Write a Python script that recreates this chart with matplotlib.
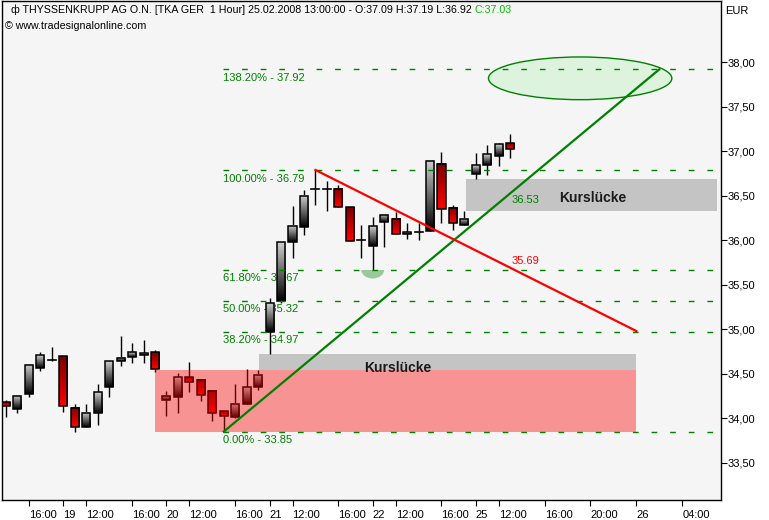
import numpy as np
import matplotlib
matplotlib.use("Agg")
import matplotlib.pyplot as plt
from matplotlib.patches import Rectangle, Ellipse
from matplotlib.colors import LinearSegmentedColormap
from matplotlib.ticker import FuncFormatter

plt.rcParams['font.family'] = ['Liberation Sans', 'DejaVu Sans']

# hourly bars, index 0 = 19.02. 10:00
bar_idx = list(range(-5, 40))
opens = [34.18, 34.10, 34.27, 34.57, 34.66, 34.70, 34.12, 33.90, 34.06, 34.35,
         34.64, 34.69, 34.71, 34.74, 34.20, 34.24, 34.46, 34.43, 34.31, 34.08,
         34.01, 34.16, 34.35, 34.97, 35.32, 35.98, 36.15, 36.58, 36.58, 36.58,
         36.37, 36.00, 35.94, 36.20, 36.24, 36.07, 36.09, 36.10, 36.86, 36.36,
         36.17, 36.75, 36.85, 36.95, 37.09]
highs = [34.20, 34.26, 34.60, 34.74, 34.80, 34.70, 34.16, 34.16, 34.39, 34.64,
         34.92, 34.85, 34.88, 34.77, 34.31, 34.51, 34.63, 34.43, 34.31, 34.08,
         34.38, 34.55, 34.54, 35.35, 35.98, 36.38, 36.57, 36.79, 36.67, 36.62,
         36.37, 36.17, 36.26, 36.28, 36.32, 36.19, 36.19, 36.90, 36.99, 36.40,
         36.33, 36.98, 37.07, 37.09, 37.19]
lows = [34.01, 34.06, 34.24, 34.53, 34.64, 34.07, 33.85, 33.90, 33.92, 34.24,
        34.59, 34.62, 34.62, 34.52, 34.02, 34.06, 34.30, 34.19, 33.97, 33.85,
        34.00, 34.16, 34.32, 34.72, 35.30, 35.80, 36.06, 36.40, 36.33, 36.37,
        35.99, 35.80, 35.67, 35.92, 36.07, 36.01, 36.00, 36.10, 36.19, 36.11,
        36.17, 36.69, 36.73, 36.83, 36.92]
closes = [34.14, 34.25, 34.60, 34.71, 34.67, 34.14, 33.90, 34.06, 34.29, 34.64,
          34.68, 34.74, 34.73, 34.55, 34.25, 34.46, 34.41, 34.26, 34.06, 34.03,
          34.16, 34.35, 34.49, 35.29, 35.98, 36.16, 36.50, 36.58, 36.58, 36.37,
          35.99, 36.00, 36.16, 36.28, 36.07, 36.09, 36.09, 36.89, 36.35, 36.19,
          36.24, 36.85, 36.97, 37.08, 37.03]

tick_pos = [-3, 0, 2, 6, 9, 11, 15, 18, 20, 24, 27, 29, 33, 36, 38, 42, 46, 50, 54]
tick_lab = ['16:00', '19', '12:00', '16:00', '20', '12:00', '16:00', '21', '12:00',
            '16:00', '22', '12:00', '16:00', '25', '12:00', '16:00', '20:00', '26', '04:00']

fib_pct = ['0.00%', '38.20%', '50.00%', '61.80%', '100.00%', '138.20%']
fib_val = [33.85, 34.97, 35.32, 35.67, 36.79, 37.92]

up_cmap = LinearSegmentedColormap.from_list('up', ['#cfcfcf', '#000000'])
dn_cmap = LinearSegmentedColormap.from_list('dn', ['#7a0000', '#ff0000'])
grad = np.linspace(0, 1, 64).reshape(-1, 1)

fig = plt.figure(figsize=(7.69, 5.2), dpi=100)
ax = fig.add_axes([2 / 769, 20 / 520, 719 / 769, 499 / 520])
ax.set_facecolor('#f5f5f5')

bw = 0.7
for i, o, h, l, c in zip(bar_idx, opens, highs, lows, closes):
    ax.plot([i, i], [l, h], color='black', lw=1.0, zorder=2, solid_capstyle='butt')
    top, bot = max(o, c), min(o, c)
    if top - bot < 0.015:
        ax.plot([i - bw / 2, i + bw / 2], [o, o], color='black', lw=1.2, zorder=4)
        continue
    cmap = up_cmap if c > o else dn_cmap
    ax.imshow(grad, cmap=cmap, aspect='auto', extent=(i - bw / 2, i + bw / 2, bot, top),
              zorder=3, interpolation='bilinear')
    ax.add_patch(Rectangle((i - bw / 2, bot), bw, top - bot, fill=False,
                           edgecolor='black', lw=1.1, zorder=4))

# price gaps
ax.add_patch(Rectangle((8, 33.85), 42, 34.54 - 33.85, facecolor='red', alpha=0.4,
                       edgecolor='none', zorder=5))
ax.add_patch(Rectangle((17.1, 34.54), 50 - 17.1, 34.72 - 34.54, facecolor='#c4c4c4',
                       edgecolor='none', zorder=1))
ax.add_patch(Rectangle((35.1, 36.33), 57.0 - 35.1, 36.69 - 36.33, facecolor='#c4c4c4',
                       edgecolor='none', zorder=1))
ax.text(29.2, 34.565, 'Kurslücke', fontsize=10, fontweight='bold', color='#1a1a1a',
        ha='center', va='center', zorder=6)
ax.text(46.2, 36.47, 'Kurslücke', fontsize=10, fontweight='bold', color='#1a1a1a',
        ha='center', va='center', zorder=6)

# fibonacci levels
for p, v in zip(fib_pct, fib_val):
    ax.plot([13.9, 57.0], [v, v], color='#008000', lw=1.0, dashes=(4.1, 9.3), zorder=4.5)
    ax.text(13.9, v - 0.04, f'{p} - {v:.2f}', color='#008000', fontsize=8,
            ha='left', va='top', zorder=1.5)

# trend lines
ax.plot([14, 52], [33.85, 37.92], color='#008000', lw=1.6, zorder=6)
ax.plot([22, 50], [36.79, 34.98], color='#ff0000', lw=1.6, zorder=6)
ax.text(39.1, 36.53 - 0.02, '36.53', color='#008000', fontsize=8, ha='left', va='top', zorder=6)
ax.text(39.1, 35.69 + 0.02, '35.69', color='#ff0000', fontsize=8, ha='left', va='bottom', zorder=6)

ax.add_patch(Ellipse((45.1, 37.82), 16.0, 0.48, facecolor='#ddf3dd', edgecolor='#008000',
                     lw=1.0, zorder=1))
half = Ellipse((27.0, 35.67), 2.0, 0.2, facecolor='#99c999', edgecolor='none', zorder=1.2)
ax.add_patch(half)
half.set_clip_path(Rectangle((25, 35.4), 4, 0.27, transform=ax.transData))

ax.set_xlim(-5.35, 57.39)
ax.set_ylim(33.081, 38.689)

ax.yaxis.tick_right()
ax.set_yticks(np.arange(33.5, 38.01, 0.5))
ax.yaxis.set_major_formatter(FuncFormatter(lambda v, p: f'{v:.2f}'.replace('.', ',')))
ax.tick_params(axis='y', direction='out', length=4, width=0.8, pad=1, labelsize=8)
ax.set_xticks(tick_pos)
ax.set_xticklabels(tick_lab, ha='left')
ax.tick_params(axis='x', direction='out', length=4, width=0.8, pad=3, labelsize=8)
for sp in ax.spines.values():
    sp.set_linewidth(1.0)

t1 = ax.text(0.012, 0.992, 'ф THYSSENKRUPP AG O.N. [TKA GER  1 Hour] 25.02.2008 13:00:00 - '
             'O:37.09 H:37.19 L:36.92 ', transform=ax.transAxes, fontsize=7.7,
             ha='left', va='top')
ax.annotate('C:37.03', xy=(1, 0), xycoords=t1, va='bottom', ha='left',
            fontsize=7.7, color='#00c000')
ax.text(0.004, 0.96, '© www.tradesignalonline.com', transform=ax.transAxes,
        fontsize=7.7, ha='left', va='top')
fig.text(725 / 769, 1 - 11 / 520, 'EUR', fontsize=8, ha='left', va='center')

fig.savefig('out.png', dpi=100)
